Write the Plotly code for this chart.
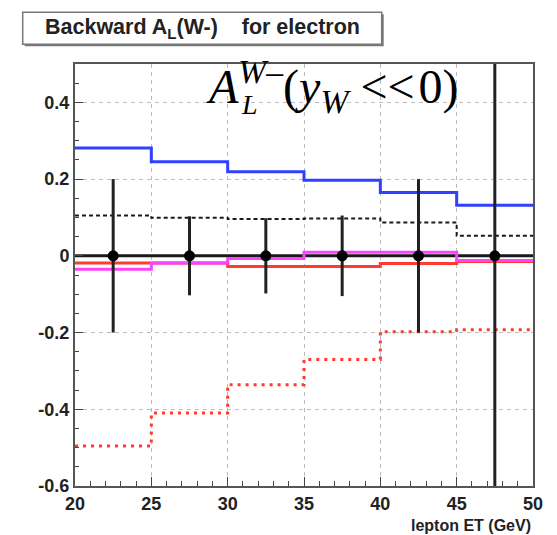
import plotly.graph_objects as go

# ---- data ----
edges = [20, 25, 30, 35, 40, 45, 50]
centers = [22.5, 27.5, 32.5, 37.5, 42.5, 47.5]
blue_vals = [0.281, 0.245, 0.219, 0.197, 0.165, 0.132]
black_dot_vals = [0.105, 0.099, 0.096, 0.097, 0.087, 0.052]
red_dot_vals = [-0.496, -0.41, -0.336, -0.27, -0.198, -0.193]
red_vals = [-0.019, -0.019, -0.028, -0.028, -0.020, -0.015]
magenta_vals = [-0.035, -0.019, -0.007, 0.009, 0.009, -0.012]
data_vals = [0.0, 0.0, 0.0, 0.0, 0.0, 0.0]
data_errs = [0.2, 0.103, 0.098, 0.105, 0.2, 1.0]

x_ticks = [20, 25, 30, 35, 40, 45, 50]
x_ticktext = ["20", "25", "30", "35", "40", "45", "50"]
y_ticks = [-0.6, -0.4, -0.2, 0.0, 0.2, 0.4]
y_ticktext = ["-0.6", "-0.4", "-0.2", "0", "0.2", "0.4"]

W, H = 557, 535
ML, MR, MT, MB = 75, 24, 64, 49
PW, PH = W - ML - MR, H - MT - MB


def px_x(p):
    return (p - ML) / PW


def px_y(p):
    return (H - MB - p) / PH


def step(vals):
    return edges, list(vals) + [vals[-1]]


fig = go.Figure()

# data histogram line at zero
sx, sy = step(data_vals)
fig.add_trace(go.Scatter(x=sx, y=sy, mode="lines", line=dict(color="#1a1a1a", width=3, shape="hv"),
                         hoverinfo="skip", showlegend=False))

for vals, color, width, dash in [
    (blue_vals, "#3040ff", 3, "solid"),
    (black_dot_vals, "#1a1a1a", 2, "4px,3px"),
    (red_dot_vals, "#ff3b2f", 3, "3px,5px"),
    (red_vals, "#ff3b2f", 3, "solid"),
    (magenta_vals, "#ff40ff", 3, "solid"),
]:
    sx, sy = step(vals)
    fig.add_trace(go.Scatter(x=sx, y=sy, mode="lines",
                             line=dict(color=color, width=width, shape="hv", dash=dash),
                             showlegend=False))

fig.add_trace(go.Scatter(x=centers, y=data_vals, mode="markers",
                         marker=dict(color="black", size=11),
                         error_y=dict(type="data", array=data_errs, color="#222222", thickness=3, width=0),
                         showlegend=False))

axis_font = dict(family="Liberation Sans", size=18, color="#222222", weight="bold")

fig.update_xaxes(range=[20, 50], tickvals=x_ticks, ticktext=x_ticktext,
                 ticks="inside", ticklen=9, tickwidth=1, tickcolor="#444",
                 minor=dict(ticks="inside", ticklen=5, dtick=1, tick0=20, tickcolor="#444", showgrid=False),
                 showgrid=True, gridcolor="#bbbbbb", griddash="4px,4px", gridwidth=1,
                 showline=True, mirror=True, linecolor="#555", linewidth=2,
                 zeroline=False, tickfont=axis_font)
fig.update_yaxes(range=[-0.6, 0.5], tickvals=y_ticks, ticktext=y_ticktext,
                 ticks="inside", ticklen=8, tickwidth=1, tickcolor="#444",
                 minor=dict(ticks="inside", ticklen=4, dtick=0.05, tick0=0, tickcolor="#444", showgrid=False),
                 showgrid=True, gridcolor="#bbbbbb", griddash="4px,4px", gridwidth=1,
                 showline=True, mirror=True, linecolor="#555", linewidth=2,
                 zeroline=False, tickfont=axis_font)

# title box (ROOT-style pave with shadow)
bx0, bx1, by0, by1 = 22.7, 381.7, 12.3, 44.3
shapes = [
    dict(type="rect", xref="paper", yref="paper",
         x0=px_x(bx0 + 2), x1=px_x(bx1 + 2), y0=px_y(by1 + 2), y1=px_y(by0 + 2),
         fillcolor="#777777", line=dict(width=0)),
    dict(type="rect", xref="paper", yref="paper",
         x0=px_x(bx0), x1=px_x(bx1), y0=px_y(by1), y1=px_y(by0),
         fillcolor="white", line=dict(color="#777777", width=1.5)),
]

annotations = [
    dict(text="<b>Backward A<sub>L</sub>(W-)\u00a0\u00a0\u00a0 for electron</b>",
         xref="paper", yref="paper", x=px_x((bx0 + bx1) / 2), y=px_y((by0 + by1) / 2),
         xanchor="center", yanchor="middle", showarrow=False,
         font=dict(family="Liberation Sans", size=21.5, color="#222222")),
    dict(text="<i>A</i><sup><i>W</i>–</sup>(<i>y</i><sub><i>W</i></sub>\u00a0&lt;&lt;\u200a0)",
         xref="paper", yref="paper", x=px_x(204), y=px_y(87),
         xanchor="left", yanchor="middle", showarrow=False,
         font=dict(family="Liberation Serif", size=48, color="black")),
    dict(text="<i>L</i>",
         xref="paper", yref="paper", x=px_x(239), y=px_y(104),
         xanchor="left", yanchor="middle", showarrow=False,
         font=dict(family="Liberation Serif", size=28, color="black")),
    dict(text="<b>lepton ET (GeV)</b>",
         xref="paper", yref="paper", x=px_x(533), y=px_y(525),
         xanchor="right", yanchor="middle", showarrow=False,
         font=dict(family="Liberation Sans", size=16, color="#222222")),
]

fig.update_layout(width=W, height=H, margin=dict(l=ML, r=MR, t=MT, b=MB, pad=0),
                  paper_bgcolor="white", plot_bgcolor="white",
                  shapes=shapes, annotations=annotations, showlegend=False)

fig.write_html("out.html")
